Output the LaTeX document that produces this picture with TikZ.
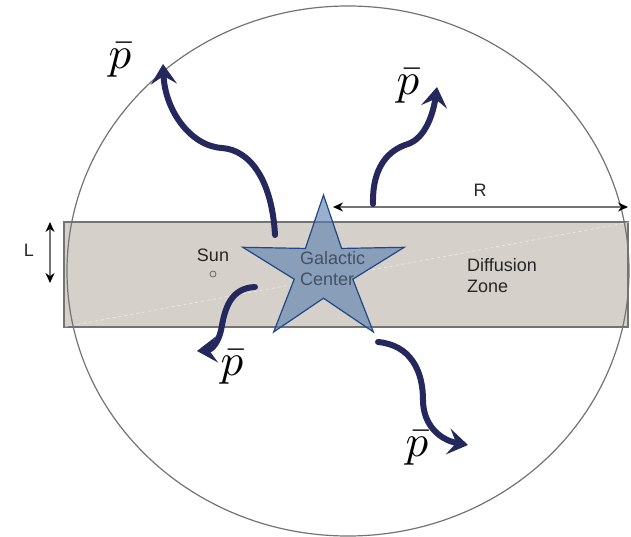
\documentclass[tikz,border=0pt]{standalone}
\usepackage{fontspec}
\setsansfont{Liberation Sans}
\usetikzlibrary{arrows.meta,positioning,calc}
\definecolor{pbarnavy}{RGB}{36,40,92}
\definecolor{zonegray}{RGB}{213,208,201}
\definecolor{rimgray}{RGB}{115,115,115}
\definecolor{starblue}{RGB}{85,125,175}
\definecolor{staredge}{RGB}{32,72,135}
\definecolor{gctextgray}{RGB}{70,80,100}

\begin{document}
\begin{tikzpicture}[x=1pt,y=-1pt,
      flow/.style={line width=6pt,pbarnavy,line cap=round,-{Stealth[length=20pt,width=26pt,inset=8pt]}},
      pbar/.style={scale=4.5,inner sep=0pt},
      lbl/.style={font=\sffamily\fontsize{18}{21}\selectfont,text=black!85,inner sep=0pt},
      dim/.style={rimgray,line width=1.2pt,{Stealth[length=10pt,width=9pt,black]}-{Stealth[length=10pt,width=9pt,black]}},
      gcstar/.style={fill=starblue,fill opacity=0.6,draw=staredge,draw opacity=1,line width=1.2pt,line join=miter}]
      \useasboundingbox (0,0) rectangle (631,537);
      % diffusion zone and halo
      \node[draw=rimgray,fill=zonegray,line width=1.2pt,minimum width=564pt,minimum height=105pt,inner sep=0pt] (zone) at (346,274.5) {};
      \draw[white,dashed,opacity=0.5,line width=0.8pt] ($(zone.south west)+(2,-1)$) -- ($(zone.north east)+(0,1)$);
      \draw[rimgray,line width=1.2pt] (348,271) ellipse [x radius=281, y radius=265];
      % galactic center
      \filldraw[gcstar,shift={(323.5,270.7)},xscale=1.12] (-90:75.7)
        \foreach \a in {-18,54,126,198} {-- (\a-36:27.5) -- (\a:75.7)} -- (-126:27.5) -- cycle;
      \node[lbl,text=gctextgray,align=left,anchor=west] (gc) at (300,269) {Galactic\\Center};
      \node[lbl] (sun) at (213,255) {Sun};
      \node[circle,draw=black!60,line width=0.8pt,inner sep=0pt,minimum size=6pt] (sunpos) at (213,274) {};
      \node[lbl,align=left,anchor=west] (dz) at (467,276) {Diffusion\\Zone};
      % dimensions
      \node[lbl] (rlab) at (480,190) {R};
      \coordinate (rl) at (333,207);
      \coordinate (rr) at (628,207);
      \draw[dim] (rl) -- (rr);
      \node[lbl] (llab) at (29,250) {L};
      \coordinate (lt) at (50,222);
      \coordinate (lb) at (50,283);
      \draw[dim] (lt) -- (lb);
      % antiprotons
      \node[pbar] (pa) at (120,60) {$\bar p$};
      \node[pbar] (pb) at (408,86) {$\bar p$};
      \node[pbar] (pc) at (232,367) {$\bar p$};
      \node[pbar] (pd) at (417,448) {$\bar p$};
      \coordinate (a1) at (275,235);
      \coordinate (e1) at (163,64);
      \coordinate (a2) at (373,204);
      \coordinate (e2) at (437,87);
      \coordinate (a3) at (255,287);
      \coordinate (e3) at (197,351);
      \coordinate (a4) at (378,342);
      \coordinate (e4) at (468,445);
      \draw[flow] (a1) .. controls (272,180) and (250,150) .. (222,148) .. controls (190,146) and (165,110) .. (e1);
      \draw[flow] (a2) .. controls (372,160) and (395,148) .. (408,144) .. controls (425,138) and (433,115) .. (e2);
      \draw[flow] (a3) .. controls (230,288) and (225,310) .. (222,325) .. controls (219,345) and (210,350) .. (e3);
      \draw[flow] (a4) .. controls (410,345) and (423,370) .. (423,400) .. controls (423,425) and (440,440) .. (e4);
    \end{tikzpicture}
\end{document}
